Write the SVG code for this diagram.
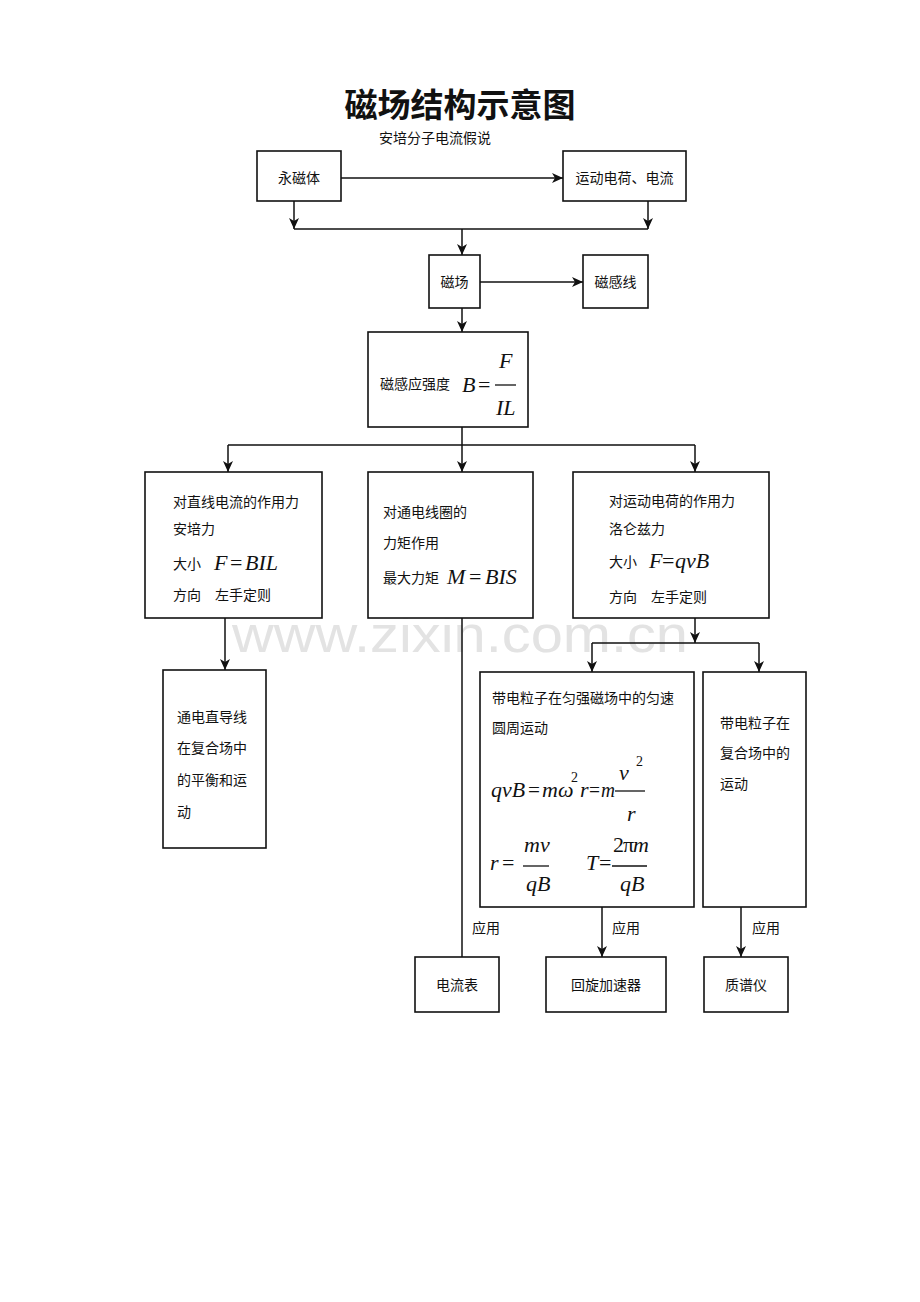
<svg xmlns="http://www.w3.org/2000/svg" width="920" height="1302" viewBox="0 0 920 1302">
<style>
.box{fill:#fff;stroke:#111;stroke-width:1.6}
.t{font-family:"Noto Sans CJK SC","Noto Sans",sans-serif;font-size:14px;fill:#111}
.c{text-anchor:middle}
.m{font-family:"Liberation Serif",serif;font-style:italic;font-size:22px;fill:#111}
.n{font-family:"Liberation Serif",serif;font-size:22px;fill:#111}
.ms{font-family:"Liberation Serif",serif;font-size:14px;fill:#111}
.ln{fill:none;stroke:#111;stroke-width:1.5}
.bar{stroke:#111;stroke-width:1.3}
</style>
<defs>
<marker id="ah" markerUnits="userSpaceOnUse" markerWidth="12" markerHeight="10" refX="11" refY="5" orient="auto">
<path d="M0,0 L11,5 L0,10 L3,5 z" fill="#111"/>
</marker>
</defs>
<rect width="920" height="1302" fill="#fff"/>
<text x="460" y="652" text-anchor="middle" font-family="Liberation Sans,sans-serif" font-size="52" fill="#e3e3e3" textLength="456" lengthAdjust="spacingAndGlyphs">www.zixin.com.cn</text>
<text x="460" y="117" text-anchor="middle" font-family="Noto Sans CJK SC,sans-serif" font-size="33" font-weight="bold" fill="#111">磁场结构示意图</text>
<text x="435" y="143" class="t c">安培分子电流假说</text>
<g id="connectors">
<path class="ln" d="M341,178 H563" marker-end="url(#ah)"/>
<path class="ln" d="M294,201 V229" marker-end="url(#ah)"/>
<path class="ln" d="M648,201 V229" marker-end="url(#ah)"/>
<path class="ln" d="M294,229 H648"/>
<path class="ln" d="M462,229 V255" marker-end="url(#ah)"/>
<path class="ln" d="M480,282 H583" marker-end="url(#ah)"/>
<path class="ln" d="M462,308 V332" marker-end="url(#ah)"/>
<path class="ln" d="M462,427 V445 M228,445 H695"/>
<path class="ln" d="M228,445 V472" marker-end="url(#ah)"/>
<path class="ln" d="M462,445 V472" marker-end="url(#ah)"/>
<path class="ln" d="M695,445 V472" marker-end="url(#ah)"/>
<path class="ln" d="M225,618 V670" marker-end="url(#ah)"/>
<path class="ln" d="M462,618 V957"/>
<path class="ln" d="M695,618 V643" marker-end="url(#ah)"/>
<path class="ln" d="M592,643 H759"/>
<path class="ln" d="M592,643 V672" marker-end="url(#ah)"/>
<path class="ln" d="M759,643 V672" marker-end="url(#ah)"/>
<path class="ln" d="M602,907 V957" marker-end="url(#ah)"/>
<path class="ln" d="M741,907 V957" marker-end="url(#ah)"/>
<text x="472" y="933" class="t">应用</text>
<text x="612" y="933" class="t">应用</text>
<text x="752" y="933" class="t">应用</text>
</g>
<g id="n-yongciti"><rect class="box" x="257" y="151" width="84" height="50"/><text x="299" y="183" class="t c">永磁体</text></g>
<g id="n-yundong"><rect class="box" x="563" y="151" width="123" height="50"/><text x="624.5" y="183" class="t c">运动电荷、电流</text></g>
<g id="n-cichang"><rect class="box" x="429" y="255" width="51" height="53"/><text x="454.5" y="287" class="t c">磁场</text></g>
<g id="n-ciganxian"><rect class="box" x="583" y="255" width="65" height="53"/><text x="615.5" y="287" class="t c">磁感线</text></g>
<g id="n-B">
<rect class="box" x="368" y="332" width="160" height="95"/>
<text x="380" y="389" class="t">磁感应强度</text>
<text x="462" y="392" class="m">B</text>
<text x="478" y="392" class="n">=</text>
<line class="bar" x1="495" y1="385" x2="516" y2="385"/>
<text x="499" y="368" class="m">F</text>
<text x="496" y="415" class="m">IL</text>
</g>
<g id="n-anpei">
<rect class="box" x="145" y="472" width="177" height="146"/>
<text x="173" y="507" class="t">对直线电流的作用力</text>
<text x="173" y="534" class="t">安培力</text>
<text x="173" y="569" class="t">大小</text>
<text x="214" y="570" class="m">F</text>
<text x="230" y="570" class="n">=</text>
<text x="245" y="570" class="m">BIL</text>
<text x="173" y="600" class="t">方向</text>
<text x="215" y="600" class="t">左手定则</text>
</g>
<g id="n-lijv">
<rect class="box" x="368" y="472" width="165" height="146"/>
<text x="383" y="517" class="t">对通电线圈的</text>
<text x="383" y="548" class="t">力矩作用</text>
<text x="383" y="583" class="t">最大力矩</text>
<text x="447" y="584" class="m">M</text>
<text x="469" y="584" class="n">=</text>
<text x="485" y="584" class="m">BIS</text>
</g>
<g id="n-luolun">
<rect class="box" x="573" y="472" width="196" height="146"/>
<text x="609" y="506" class="t">对运动电荷的作用力</text>
<text x="609" y="534" class="t">洛仑兹力</text>
<text x="609" y="567" class="t">大小</text>
<text x="649" y="568" class="m">F</text>
<text x="662" y="568" class="n">=</text>
<text x="675" y="568" class="m">qvB</text>
<text x="609" y="602" class="t">方向</text>
<text x="651" y="602" class="t">左手定则</text>
</g>
<g id="n-daoxian">
<rect class="box" x="163" y="670" width="103" height="178"/>
<text x="177" y="722" class="t">通电直导线</text>
<text x="177" y="753" class="t">在复合场中</text>
<text x="177" y="785" class="t">的平衡和运</text>
<text x="177" y="817" class="t">动</text>
</g>
<g id="n-yuanzhou">
<rect class="box" x="480" y="672" width="214" height="235"/>
<text x="492" y="703" class="t">带电粒子在匀强磁场中的匀速</text>
<text x="492" y="733" class="t">圆周运动</text>
<text x="491" y="797" class="m" textLength="34" lengthAdjust="spacingAndGlyphs">qvB</text>
<text x="528" y="797" class="n" textLength="12" lengthAdjust="spacingAndGlyphs">=</text>
<text x="542" y="797" class="m" font-size="20">mω</text>
<text x="571" y="782" class="ms" font-size="13">2</text>
<text x="580" y="797" class="m">r</text>
<text x="589" y="797" class="n" textLength="11" lengthAdjust="spacingAndGlyphs">=</text>
<text x="601" y="797" class="m" textLength="14" lengthAdjust="spacingAndGlyphs">m</text>
<line class="bar" x1="615" y1="791" x2="645" y2="791"/>
<text x="619" y="780" class="m">v</text>
<text x="636" y="766" class="ms">2</text>
<text x="627" y="821" class="m">r</text>
<text x="490" y="870" class="m">r</text>
<text x="502" y="870" class="n">=</text>
<line class="bar" x1="523" y1="866" x2="549" y2="866"/>
<text x="524" y="852" class="m">mv</text>
<text x="526" y="891" class="m">qB</text>
<text x="586" y="870" class="m">T</text>
<text x="599" y="870" class="n">=</text>
<line class="bar" x1="612" y1="866" x2="647" y2="866"/>
<text x="613" y="852" class="n" font-size="19">2</text>
<text x="623" y="852" class="n" font-size="19">π</text>
<text x="633" y="852" class="m" font-size="19">m</text>
<text x="620" y="891" class="m">qB</text>
</g>
<g id="n-fuhe">
<rect class="box" x="703" y="672" width="103" height="235"/>
<text x="720" y="728" class="t">带电粒子在</text>
<text x="720" y="758" class="t">复合场中的</text>
<text x="720" y="789" class="t">运动</text>
</g>
<g id="n-dianliubiao"><rect class="box" x="415" y="957" width="84" height="55"/><text x="457" y="990" class="t c">电流表</text></g>
<g id="n-huixuan"><rect class="box" x="546" y="957" width="120" height="55"/><text x="606" y="990" class="t c">回旋加速器</text></g>
<g id="n-zhipuyi"><rect class="box" x="704" y="957" width="84" height="55"/><text x="746" y="990" class="t c">质谱仪</text></g>
</svg>
